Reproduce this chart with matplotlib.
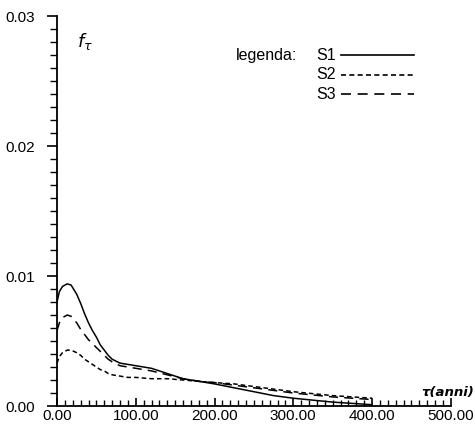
import matplotlib
matplotlib.use("Agg")
import matplotlib.pyplot as plt
from matplotlib.ticker import MultipleLocator, FormatStrFormatter

# anni
tau = [0, 3, 7, 13, 18, 25, 30, 35, 40, 45, 50, 55, 60, 65, 70, 80, 90, 100,
       120, 140, 160, 180, 200, 225, 250, 275, 300, 350, 400]

s1 = [0.0080, 0.0088, 0.0092, 0.0094, 0.0093, 0.0086, 0.0079, 0.0071, 0.0064, 0.0058,
      0.0053, 0.0047, 0.0043, 0.0039, 0.0036, 0.0033, 0.0032, 0.0031,
      0.0029, 0.0025, 0.0021, 0.0019, 0.0017, 0.0014, 0.0011, 0.0008, 0.0006, 0.0003, 0.0001]
s2 = [0.0033, 0.0038, 0.0041, 0.0043, 0.0043, 0.0041, 0.0039, 0.0036, 0.0034, 0.0032,
      0.0030, 0.0028, 0.0027, 0.0025, 0.0024, 0.0023, 0.0022, 0.0022,
      0.0021, 0.0021, 0.0020, 0.0019, 0.0018, 0.0017, 0.0015, 0.0013, 0.0011, 0.0008, 0.0006]
s3 = [0.0058, 0.0064, 0.0068, 0.0070, 0.0069, 0.0064, 0.0059, 0.0055, 0.0051, 0.0048,
      0.0045, 0.0042, 0.0039, 0.0036, 0.0034, 0.0031, 0.0030, 0.0029,
      0.0027, 0.0024, 0.0021, 0.0019, 0.0018, 0.0016, 0.0014, 0.0012, 0.0010, 0.0007, 0.0005]

series = ["S1", "S2", "S3"]
styles = {"S1": "-", "S2": (0, (3, 2)), "S3": (0, (6, 4))}

plt.rcParams["font.family"] = ["Liberation Sans", "DejaVu Sans"]

fig = plt.figure(figsize=(4.75, 4.34), dpi=100)
ax = fig.add_axes([0.12, 0.0645, 0.829, 0.8985])

for name, vals in zip(series, [s1, s2, s3]):
    ax.plot(tau, vals, color="black", lw=1.1, linestyle=styles[name])

ax.set_xlim(0, 500)
ax.set_ylim(0, 0.03)
ax.spines["top"].set_visible(False)
ax.spines["right"].set_visible(False)
ax.spines["left"].set_linewidth(1.3)
ax.spines["bottom"].set_linewidth(1.3)

ax.xaxis.set_major_locator(MultipleLocator(100))
ax.xaxis.set_minor_locator(MultipleLocator(10))
ax.yaxis.set_major_locator(MultipleLocator(0.01))
ax.yaxis.set_minor_locator(MultipleLocator(0.001))
ax.xaxis.set_major_formatter(FormatStrFormatter("%.2f"))
ax.yaxis.set_major_formatter(FormatStrFormatter("%.2f"))

ax.tick_params(axis="x", which="major", direction="in", length=6, width=1.2,
               labelsize=11, pad=2)
ax.tick_params(axis="x", which="minor", direction="in", length=4, width=1)
ax.tick_params(axis="y", which="major", direction="out", length=7, width=1.2,
               labelsize=11, pad=9)
ax.tick_params(axis="y", which="minor", direction="out", length=5, width=1)

ax.text(0.05, 0.935, r"$f_\tau$", transform=ax.transAxes, fontsize=13,
        ha="left", va="center")
fig.text(0.998, 0.095, "τ(anni)", fontsize=9.5, style="italic", weight="bold",
         ha="right", va="center", family=["DejaVu Sans"])

# legenda
ax.text(0.455, 0.90, "legenda:", transform=ax.transAxes, fontsize=11.5,
        ha="left", va="center")
for i, name in enumerate(series):
    yy = 0.90 - i * 0.05
    ax.text(0.658, yy, name, transform=ax.transAxes, fontsize=11.5,
            ha="left", va="center")
    ax.plot([0.72, 0.906], [yy, yy], transform=ax.transAxes, color="black",
            lw=1.2, linestyle=styles[name], clip_on=False)

fig.savefig("out.png", dpi=100)
